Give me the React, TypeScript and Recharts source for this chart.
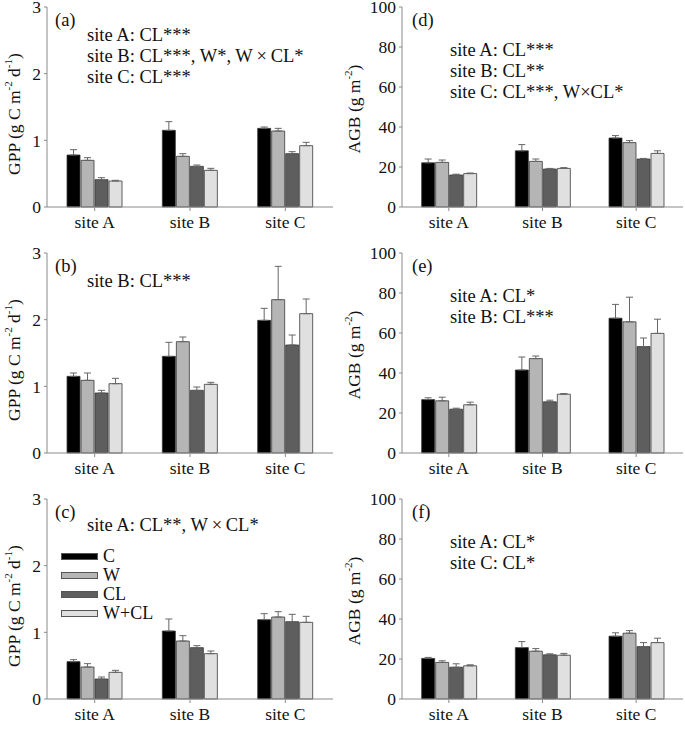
import React from 'react';
import {
  BarChart,
  Bar,
  XAxis,
  YAxis,
  ErrorBar,
  Legend,
} from 'recharts';

const sites = ['site A', 'site B', 'site C'];
const treatments = ['C', 'W', 'CL', 'W+CL'];
const barColors = ['#000000', '#b5b5b5', '#5e5e5e', '#e0e0e0'];

const gppTicks = [0, 1, 2, 3];
const agbTicks = [0, 20, 40, 60, 80, 100];

// rows = sites, columns = C, W, CL, W+CL
const gppA = [[0.78, 0.70, 0.41, 0.39], [1.15, 0.76, 0.61, 0.55], [1.18, 1.14, 0.80, 0.92]];
const gppAErr = [[0.08, 0.04, 0.03, 0.01], [0.13, 0.04, 0.02, 0.03], [0.02, 0.04, 0.03, 0.05]];
const gppB = [[1.15, 1.09, 0.90, 1.04], [1.45, 1.67, 0.94, 1.03], [1.99, 2.30, 1.62, 2.09]];
const gppBErr = [[0.05, 0.11, 0.04, 0.08], [0.21, 0.07, 0.05, 0.03], [0.18, 0.50, 0.15, 0.22]];
const gppC = [[0.56, 0.48, 0.30, 0.40], [1.02, 0.87, 0.77, 0.68], [1.19, 1.23, 1.16, 1.15]];
const gppCErr = [[0.03, 0.05, 0.03, 0.03], [0.18, 0.08, 0.03, 0.04], [0.09, 0.08, 0.11, 0.09]];

const agbD = [[22.1, 22.3, 16.0, 16.7], [28.1, 22.8, 19.0, 19.3], [34.5, 32.2, 24.0, 26.8]];
const agbDErr = [[1.9, 1.2, 0.4, 0.3], [3.1, 1.2, 0.3, 0.4], [1.2, 1.0, 0.3, 1.3]];
const agbE = [[26.7, 26.1, 21.9, 24.1], [41.5, 47.2, 25.6, 29.4], [67.4, 65.6, 53.2, 59.8]];
const agbEErr = [[0.9, 1.8, 0.5, 1.3], [6.5, 1.3, 0.8, 0.3], [6.9, 12.3, 4.3, 7.1]];
const agbF = [[20.3, 18.3, 15.9, 16.6], [25.7, 23.9, 22.1, 21.9], [31.4, 32.9, 26.2, 28.2]];
const agbFErr = [[0.5, 0.8, 1.7, 0.5], [3.0, 1.3, 0.5, 0.9], [1.7, 1.3, 2.0, 2.2]];

const FONT = '"Liberation Serif", "Times New Roman", serif';
const AXIS = '#8a8a8a';
const PAD = 10; // extra room above each plot so the top tick label is not clipped

const buildRows = (means: number[][], errs: number[][]) =>
  sites.map((site, i) => {
    const row: any = { site };
    treatments.forEach((t, j) => {
      row[t] = means[i][j];
      row[t + '_err'] = errs[i][j];
    });
    return row;
  });

const YLabel = ({ viewBox, kind }: any) => {
  const cx = viewBox.x + 14;
  const cy = viewBox.y + viewBox.height / 2 + (kind === 'gpp' ? 7 : 2);
  return (
    <text
      x={cx}
      y={cy}
      transform={`rotate(-90, ${cx}, ${cy})`}
      textAnchor="middle"
      dominantBaseline="central"
      fontFamily={FONT}
      fontSize={17.5}
      fill="#111"
    >
      {kind === 'gpp' ? (
        <>
          <tspan>GPP (g C m</tspan>
          <tspan dy={-6} fontSize={11}>-2</tspan>
          <tspan dy={6}> d</tspan>
          <tspan dy={-6} fontSize={11}>-1</tspan>
          <tspan dy={6}>)</tspan>
        </>
      ) : (
        <>
          <tspan>AGB (g m</tspan>
          <tspan dy={-6} fontSize={11}>-2</tspan>
          <tspan dy={6}>)</tspan>
        </>
      )}
    </text>
  );
};

const LegendBox = ({ payload }: any) => (
  <div style={{ fontFamily: FONT, fontSize: 18, color: '#111' }}>
    {(payload || []).map((p: any) => (
      <div key={p.value} style={{ display: 'flex', alignItems: 'center', height: 19 }}>
        <div
          style={{
            width: 35,
            height: 5,
            background: p.color,
            border: '1px solid #555',
            marginRight: 5,
          }}
        />
        <span>{p.value}</span>
      </div>
    ))}
  </div>
);

interface PanelProps {
  means: number[][];
  errs: number[][];
  kind: 'gpp' | 'agb';
  tag: string;
  notes: string[];
  notesInline?: boolean;
  legend?: boolean;
  left: number;
  top: number;
}

const Panel: React.FC<PanelProps> = ({ means, errs, kind, tag, notes, notesInline, legend, left, top }) => {
  const data = buildRows(means, errs);
  const isGpp = kind === 'gpp';
  const width = isGpp ? 340 : 345;
  const yWidth = isGpp ? 47 : 62;
  const noteX = isGpp ? 87 : 110;
  const tagX = isGpp ? 55 : 72;
  return (
    <div style={{ position: 'absolute', left, top: top - PAD, width, height: 245 + PAD }}>
      <BarChart
        width={width}
        height={245 + PAD}
        data={data}
        margin={{ top: 7 + PAD, right: isGpp ? 7 : 2, bottom: 0, left: 0 }}
        barCategoryGap="21%"
        barGap={1}
      >
        <XAxis
          dataKey="site"
          stroke={AXIS}
          tickSize={4}
          tickMargin={5}
          height={38}
          tick={{ fill: '#111', fontFamily: FONT, fontSize: 17.5 }}
        />
        <XAxis xAxisId="top" orientation="top" dataKey="site" stroke={AXIS} tick={false} height={0} />
        <YAxis
          domain={isGpp ? [0, 3] : [0, 100]}
          ticks={isGpp ? gppTicks : agbTicks}
          width={yWidth}
          stroke={AXIS}
          tickSize={3}
          tickMargin={3}
          interval={0}
          tick={{ fill: '#111', fontFamily: FONT, fontSize: 17.5 }}
          label={<YLabel kind={kind} />}
        />
        <YAxis yAxisId="right" orientation="right" stroke={AXIS} tick={false} width={0} />
        {treatments.map((t, j) => (
          <Bar
            key={t}
            dataKey={t}
            name={t}
            fill={barColors[j]}
            stroke="#3a3a3a"
            strokeWidth={0.8}
            isAnimationActive={false}
          >
            <ErrorBar
              dataKey={(d: any) => [0, d[t + '_err']]}
              direction="y"
              width={3.5}
              stroke="#666"
              strokeWidth={1}
            />
          </Bar>
        ))}
        {legend && (
          <Legend
            layout="vertical"
            align="center"
            verticalAlign="middle"
            itemSorter={(item: any) => treatments.indexOf(item.value)}
            content={<LegendBox />}
            wrapperStyle={{ left: 61, top: 55 + PAD, width: 120 }}
          />
        )}
      </BarChart>
      <div
        style={{
          position: 'absolute',
          left: tagX,
          top: 9 + PAD,
          fontFamily: FONT,
          fontSize: 18.5,
          color: '#111',
          lineHeight: '22px',
        }}
      >
        {tag}
      </div>
      <div
        style={{
          position: 'absolute',
          left: noteX,
          top: (notesInline ? 23 : isGpp ? 25 : 40) + PAD,
          fontFamily: FONT,
          fontSize: 18.5,
          color: '#111',
          lineHeight: '21px',
          whiteSpace: 'nowrap',
        }}
      >
        {notes.map((n) => (
          <div key={n}>{n}</div>
        ))}
      </div>
    </div>
  );
};

export default function App() {
  return (
    <div style={{ position: 'absolute', left: 0, top: 0, width: 685, height: 729, background: '#fff', overflow: 'hidden' }}>
      <Panel
        means={gppA}
        errs={gppAErr}
        kind="gpp"
        tag="(a)"
        notes={['site A: CL***', 'site B: CL***, W*, W\u2009\u00d7\u2009CL*', 'site C: CL***']}
        left={0}
        top={0}
      />
      <Panel
        means={agbD}
        errs={agbDErr}
        kind="agb"
        tag="(d)"
        notes={['site A: CL***', 'site B: CL**', 'site C: CL***, W\u00d7CL*']}
        left={340}
        top={0}
      />
      <Panel
        means={gppB}
        errs={gppBErr}
        kind="gpp"
        tag="(b)"
        notes={['site B: CL***']}
        left={0}
        top={246}
      />
      <Panel
        means={agbE}
        errs={agbEErr}
        kind="agb"
        tag="(e)"
        notes={['site A: CL*', 'site B: CL***']}
        left={340}
        top={246}
      />
      <Panel
        means={gppC}
        errs={gppCErr}
        kind="gpp"
        tag="(c)"
        notes={['site A: CL**, W\u2009\u00d7\u2009CL*']}
        notesInline
        legend
        left={0}
        top={492}
      />
      <Panel
        means={agbF}
        errs={agbFErr}
        kind="agb"
        tag="(f)"
        notes={['site A: CL*', 'site C: CL*']}
        left={340}
        top={492}
      />
    </div>
  );
}
